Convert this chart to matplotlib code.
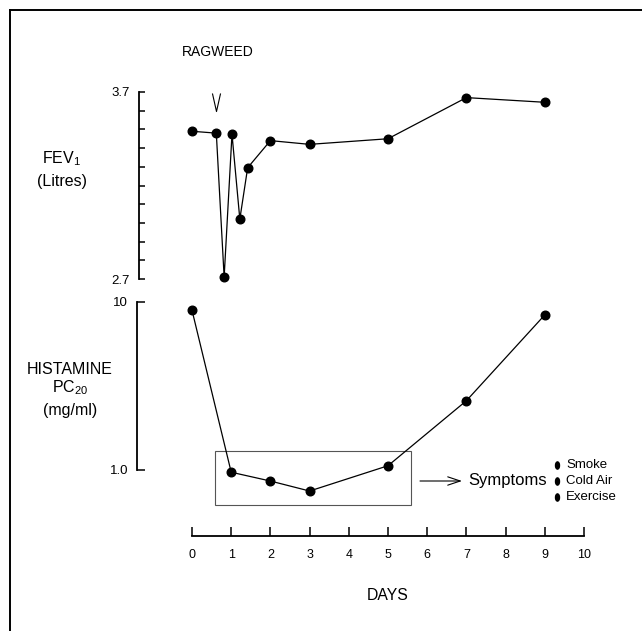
import numpy as np
import matplotlib
matplotlib.use('Agg')
import matplotlib.pyplot as plt
from matplotlib.lines import Line2D
from matplotlib.markers import MarkerStyle
from matplotlib.patches import Rectangle
from matplotlib.path import Path
from matplotlib.transforms import Affine2D

plt.rcParams['font.family'] = ['Liberation Sans', 'DejaVu Sans']
plt.rcParams['mathtext.fontset'] = 'custom'
plt.rcParams['mathtext.rm'] = 'Liberation Sans'

# Data
fev_days = [0, 0.62, 0.82, 1.02, 1.22, 1.42, 2, 3, 5, 7, 9]
fev = [3.49, 3.48, 2.71, 3.475, 3.02, 3.295, 3.44, 3.42, 3.45, 3.67, 3.645]
hist_days = [0, 1, 2, 3, 5, 7, 9]
pc20 = [8.9, 0.97, 0.86, 0.75, 1.06, 2.58, 8.35]
challenge_day = 0.6
challenge_mark = 3.645
box_days = (0.59, 5.59)
box_pc20 = (0.617, 1.30)
day_ticks = list(range(0, 11))
symptoms = ['Smoke', 'Cold Air', 'Exercise']

W, H = 642, 631


def fx(px):
    return px / W


def fy(py):
    return 1 - py / H


# pixel mapping of the day axis: day 0 at 192 px, 39.2 px per day
X0, PPD = 192, 39.2


def day_lim(left_px, right_px):
    return ((left_px - X0) / PPD, (right_px - X0) / PPD)


fig = plt.figure(figsize=(6.42, 6.31), dpi=100)

# outer frame (left + top only, the rest runs off the page)
fig.add_artist(Line2D([fx(9.5), fx(9.5)], [fy(10), 0], color='black', lw=1.4))
fig.add_artist(Line2D([fx(9.5), 1], [fy(10), fy(10)], color='black', lw=1.4))

# FEV1 panel
ax1 = fig.add_axes([fx(139), fy(279), (600 - 139) / W, 187 / H])
ax1.plot(fev_days, fev, color='black', lw=0.9, marker='o', ms=6.2, clip_on=False)
v_marker = Path([(-0.45, 1), (0, -1), (0.45, 1)], [Path.MOVETO, Path.LINETO, Path.LINETO])
ax1.plot([challenge_day], [challenge_mark], marker=v_marker, ms=13, mew=0.8,
         mec='black', fillstyle='none', ls='none', clip_on=False)
ax1.set_xlim(*day_lim(139, 600))
ax1.set_ylim(2.7, 3.7)
ax1.set_yticks([2.7, 3.7])
ax1.set_yticklabels(['2.7', '3.7'])
ax1.set_yticks(np.arange(2.8, 3.65, 0.1), minor=True)
ax1.tick_params(axis='y', which='both', direction='in', length=4, width=1.1,
                pad=6.5, labelsize=9.5)
ax1.set_xticks([])
for s in ['top', 'right', 'bottom']:
    ax1.spines[s].set_visible(False)
ax1.spines['left'].set_linewidth(1.3)
ax1.patch.set_visible(False)

# Histamine PC20 panel
ax2 = fig.add_axes([fx(137), fy(470), (600 - 137) / W, (470 - 301.7) / H])
ax2.set_yscale('log')
ax2.plot(hist_days, pc20, color='black', lw=0.9, marker='o', ms=6.2, clip_on=False)
ax2.add_patch(Rectangle((box_days[0], box_pc20[0]), box_days[1] - box_days[0],
                        box_pc20[1] - box_pc20[0], fill=False, ec='#555555',
                        lw=0.8, clip_on=False))
ax2.set_xlim(*day_lim(137, 600))
ax2.set_ylim(1, 10)
ax2.yaxis.set_minor_locator(matplotlib.ticker.NullLocator())
ax2.set_yticks([1, 10])
ax2.set_yticklabels(['1.0', '10'])
ax2.tick_params(axis='y', direction='in', length=6, width=1.1, pad=6.5, labelsize=9.5)
ax2.set_xticks([])
for s in ['top', 'right', 'bottom']:
    ax2.spines[s].set_visible(False)
ax2.spines['left'].set_linewidth(1.3)
ax2.patch.set_visible(False)

# Days axis
ax3 = fig.add_axes([fx(192), fy(536), (584 - 192) / W, 0.01])
ax3.set_xlim(0, 10)
ax3.set_xticks(day_ticks)
ax3.tick_params(axis='x', direction='in', length=6.5, width=1.1, pad=9, labelsize=9)
ax3.set_yticks([])
for s in ['top', 'right', 'left']:
    ax3.spines[s].set_visible(False)
ax3.spines['bottom'].set_linewidth(1.3)
ax3.patch.set_visible(False)

# labels
fig.text(fx(388), fy(596), 'DAYS', ha='center', va='center', fontsize=11.3)
fig.text(fx(218), fy(52), 'RAGWEED', ha='center', va='center', fontsize=10)
fig.text(fx(62), fy(159), r'FEV$_\mathregular{1}$', ha='center', va='center', fontsize=11.5)
fig.text(fx(62), fy(181.5), '(Litres)', ha='center', va='center', fontsize=11.5)
fig.text(fx(70), fy(369), 'HISTAMINE', ha='center', va='center', fontsize=11.5)
fig.text(fx(70), fy(388), r'PC$_\mathregular{20}$', ha='center', va='center', fontsize=11.5)
fig.text(fx(70), fy(411), '(mg/ml)', ha='center', va='center', fontsize=11.5)

# symptoms note
fig.add_artist(matplotlib.patches.FancyArrowPatch(
    (fx(420), fy(481)), (fx(462), fy(481)), transform=fig.transFigure,
    arrowstyle='->,head_length=9,head_width=3', lw=0.8, color='black',
    shrinkA=0, shrinkB=0))
fig.text(fx(468), fy(481), 'Symptoms', ha='left', va='center', fontsize=12)
bullet = MarkerStyle('o', transform=Affine2D().scale(0.55, 1))
for i, name in enumerate(symptoms):
    yy = 465 + 16 * i
    fig.add_artist(Line2D([fx(557)], [fy(yy)], marker=bullet, ms=5.2,
                          color='black', ls='none'))
    fig.text(fx(566), fy(yy), name, ha='left', va='center', fontsize=9.5)

fig.savefig('out.png', dpi=100)
